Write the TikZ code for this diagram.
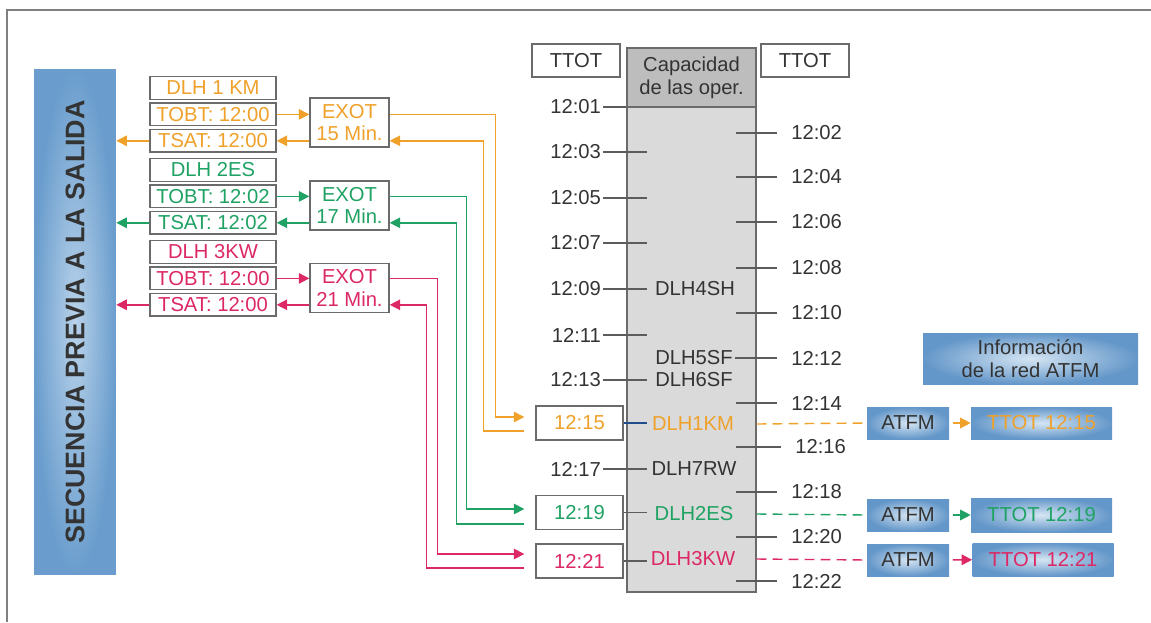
\documentclass[tikz,border=0pt]{standalone}
\usepackage{fontspec}
\setmainfont{Liberation Sans}
\usepackage{xcolor}
\usepackage{tikz}
\usetikzlibrary{arrows.meta,positioning}
\definecolor{sqorange}{HTML}{EFA12A}
\definecolor{sqgreen}{HTML}{1FA263}
\definecolor{sqred}{HTML}{DC2865}
\definecolor{sqnavy}{HTML}{1F4E8C}
\definecolor{sqblue}{HTML}{6497C9}
\definecolor{sqlight}{HTML}{D5E5F3}
\definecolor{seqblue}{HTML}{6A9DCD}
\definecolor{seqlight}{HTML}{B8D2EA}
\definecolor{darkgray}{HTML}{333333}
\definecolor{linegray}{HTML}{6B6B6B}
\definecolor{colgray}{HTML}{DADADA}
\definecolor{headgray}{HTML}{BDBDBD}
\newcommand{\diagfont}{\fontsize{11.5pt}{13pt}\selectfont}
\tikzset{
  flightbox/.style={rectangle,draw=linegray,fill=white,line width=0.8pt,text=#1,
    minimum width=2.52cm,minimum height=0.45cm,inner sep=0pt},
  flightbox/.default=darkgray,
  exotbox/.style={rectangle,draw=linegray,fill=white,line width=0.8pt,text=#1,
    minimum width=1.58cm,minimum height=0.98cm,align=center,inner sep=0pt},
  exotbox/.default=darkgray,
  timebox/.style={rectangle,draw=linegray,fill=white,line width=0.8pt,text=#1,
    minimum width=1.74cm,minimum height=0.68cm,inner sep=0pt},
  timebox/.default=darkgray,
  atfmbox/.style={rectangle,inner color=sqlight,outer color=sqblue,text=#1,
    minimum height=0.64cm,inner sep=0pt,align=center},
  atfmbox/.default=darkgray,
  seqbox/.style={rectangle,inner color=seqlight,outer color=seqblue,text=darkgray,
    font=\bfseries\fontsize{15.3pt}{18pt}\selectfont,inner sep=0pt},
  ltime/.style={anchor=east,inner sep=1pt,text=darkgray},
  rtime/.style={anchor=west,inner xsep=0.28cm,inner ysep=1pt,text=darkgray},
  flight/.style={text=#1,inner sep=1pt},
  flight/.default=darkgray,
  arrow/.style={-{Triangle[length=6pt,width=6pt]},line width=0.8pt,draw=#1,fill=#1},
  scaletick/.style={line width=0.7pt,draw=#1},
  scaletick/.default=darkgray!80,
  dashline/.style={dash pattern=on 5.5pt off 3.6pt,line width=0.8pt,draw=#1}
}

\begin{document}
\begin{tikzpicture}[x=0.02cm,y=-0.02cm,font=\diagfont]
\useasboundingbox (0,0) rectangle (1151,622);
\draw[line width=1pt,draw=gray] (7,622) -- (7,10) -- (1151,10);

\node[seqbox,rotate=90,minimum width=10.12cm,minimum height=1.64cm] (seq) at (75,322) {SECUENCIA PREVIA A LA SALIDA};

% first flight
\node[flightbox=sqorange] (dlh1) at (213,88) {DLH 1 KM};
\node[flightbox=sqorange,below=0.05cm of dlh1] (tobt1) {TOBT: 12:00};
\node[flightbox=sqorange,below=0.05cm of tobt1] (tsat1) {TSAT: 12:00};
\node[exotbox=sqorange] (exot1) at (349.5,122.5) {EXOT\\15 Min.};
% second flight
\node[flightbox=sqgreen] (dlh2) at (213,170) {DLH 2ES};
\node[flightbox=sqgreen,below=0.05cm of dlh2] (tobt2) {TOBT: 12:02};
\node[flightbox=sqgreen,below=0.05cm of tobt2] (tsat2) {TSAT: 12:02};
\node[exotbox=sqgreen] (exot2) at (349.5,205.5) {EXOT\\17 Min.};
% third flight
\node[flightbox=sqred] (dlh3) at (213,252) {DLH 3KW};
\node[flightbox=sqred,below=0.05cm of dlh3] (tobt3) {TOBT: 12:00};
\node[flightbox=sqred,below=0.05cm of tobt3] (tsat3) {TSAT: 12:00};
\node[exotbox=sqred] (exot3) at (349.5,288) {EXOT\\21 Min.};

% runway capacity column
\node[rectangle,draw=linegray,fill=colgray,line width=0.8pt,minimum width=2.58cm,minimum height=10.88cm] (col) at (691.5,320) {};
\node[rectangle,draw=linegray,fill=headgray,line width=0.8pt,minimum width=2.58cm,minimum height=1.18cm,anchor=north,align=center,text=darkgray] (cap) at (col.north) {Capacidad\\de las oper.};
\node[flightbox,minimum width=1.76cm,minimum height=0.66cm] (ttotl) at (576,60.5) {TTOT};
\node[flightbox,minimum width=1.76cm,minimum height=0.66cm] (ttotr) at (805,60.5) {TTOT};
\coordinate (lt) at (647,0);
\coordinate (rt) at (736,0);

\node[ltime] (l01) at (603,107) {12:01};
\node[ltime] (l03) at (603,152) {12:03};
\node[ltime] (l05) at (603,198) {12:05};
\node[ltime] (l07) at (603,243) {12:07};
\node[ltime] (l09) at (603,289) {12:09};
\node[ltime] (l11) at (603,335) {12:11};
\node[ltime] (l13) at (603,380) {12:13};
\node[ltime] (l17) at (603,469) {12:17};

\node[rtime] (r02) at (777,133) {12:02};
\node[rtime] (r04) at (777,177) {12:04};
\node[rtime] (r06) at (777,222) {12:06};
\node[rtime] (r08) at (777,268) {12:08};
\node[rtime] (r10) at (777,313) {12:10};
\node[rtime] (r12) at (777,358) {12:12};
\node[rtime] (r14) at (777,403) {12:14};
\node[rtime] (r16) at (781,447) {12:16};
\node[rtime] (r18) at (777,492) {12:18};
\node[rtime] (r20) at (777,537) {12:20};
\node[rtime] (r22) at (777,581) {12:22};

\node[flight] (d4sh) at (695,289) {DLH4SH};
\node[flight] (d5sf) at (694,358) {DLH5SF};
\node[flight] (d6sf) at (694,380) {DLH6SF};
\node[flight=sqorange] (d1km) at (693,424) {DLH1KM};
\node[flight] (d7rw) at (694,469) {DLH7RW};
\node[flight=sqgreen] (d2es) at (694,514) {DLH2ES};
\node[flight=sqred] (d3kw) at (693,559) {DLH3KW};

\node[timebox=sqorange] (b15) at (579.5,423) {12:15};
\node[timebox=sqgreen] (b19) at (579.5,512.5) {12:19};
\node[timebox=sqred] (b21) at (579.5,561) {12:21};

% ATFM side
\node[atfmbox,minimum width=4.3cm,minimum height=1.02cm] (info) at (1030.5,358.5) {Información\\de la red ATFM};
\node[atfmbox,minimum width=1.64cm] (atfm1) at (908,423) {ATFM};
\node[atfmbox,minimum width=1.64cm] (atfm2) at (908,515) {ATFM};
\node[atfmbox,minimum width=1.64cm] (atfm3) at (908,560) {ATFM};
\node[atfmbox=sqorange,minimum width=2.82cm] (tt1) at (1041.5,423) {TTOT 12:15};
\node[atfmbox=sqgreen,minimum width=2.82cm,minimum height=0.68cm] (tt2) at (1041.5,515) {TTOT 12:19};
\node[atfmbox=sqred,minimum width=2.82cm,minimum height=0.66cm] (tt3) at (1043,559.5) {TTOT 12:21};

% ticks
\draw[scaletick] (l01.east) -- (l01.east -| col.west);
\draw[scaletick] (l03.east) -- (l03.east -| lt);
\draw[scaletick] (l05.east) -- (l05.east -| lt);
\draw[scaletick] (l07.east) -- (l07.east -| lt);
\draw[scaletick] (l09.east) -- (l09.east -| lt);
\draw[scaletick] (l11.east) -- (l11.east -| lt);
\draw[scaletick] (l13.east) -- (l13.east -| lt);
\draw[scaletick] (l17.east) -- (l17.east -| lt);
\draw[scaletick] (r02.west) -- (r02.west -| rt);
\draw[scaletick] (r04.west) -- (r04.west -| rt);
\draw[scaletick] (r06.west) -- (r06.west -| rt);
\draw[scaletick] (r08.west) -- (r08.west -| rt);
\draw[scaletick] (r10.west) -- (r10.west -| rt);
\draw[scaletick] (r12.west) -- (d5sf.east);
\draw[scaletick] (r14.west) -- (r14.west -| rt);
\draw[scaletick] (r16.west) -- (r16.west -| rt);
\draw[scaletick] (r18.west) -- (r18.west -| rt);
\draw[scaletick] (r20.west) -- (r20.west -| rt);
\draw[scaletick] (r22.west) -- (r22.west -| rt);
\draw[scaletick=sqnavy] (b15.east) -- (b15.east -| lt);
\draw[scaletick] (b19.east) -- (b19.east -| lt);
\draw[scaletick] (b21.east) -- (b21.east -| lt);

% flight arrows
\draw[arrow=sqorange] (tobt1.east) -- (tobt1.east -| exot1.west);
\draw[arrow=sqorange] (tsat1.east -| exot1.west) -- (tsat1.east);
\draw[arrow=sqorange] (tsat1.west) -- (tsat1.west -| seq.south);
\draw[arrow=sqgreen] (tobt2.east) -- (tobt2.east -| exot2.west);
\draw[arrow=sqgreen] (tsat2.east -| exot2.west) -- (tsat2.east);
\draw[arrow=sqgreen] (tsat2.west) -- (tsat2.west -| seq.south);
\draw[arrow=sqred] (tobt3.east) -- (tobt3.east -| exot3.west);
\draw[arrow=sqred] (tsat3.east -| exot3.west) -- (tsat3.east);
\draw[arrow=sqred] (tsat3.west) -- (tsat3.west -| seq.south);

\draw[arrow=sqorange,fill=none] (tobt1.east -| exot1.east) -| ([xshift=-0.8cm,yshift=0.12cm]b15.west) -- ([xshift=-0.22cm,yshift=0.12cm]b15.west);
\draw[arrow=sqorange,fill=none] ([xshift=-0.22cm,yshift=-0.16cm]b15.west) -- ([xshift=-1.04cm,yshift=-0.16cm]b15.west) |- (tsat1.east -| exot1.east);
\draw[arrow=sqgreen,fill=none] (tobt2.east -| exot2.east) -| ([xshift=-1.38cm,yshift=0.07cm]b19.west) -- ([xshift=-0.22cm,yshift=0.07cm]b19.west);
\draw[arrow=sqgreen,fill=none] ([xshift=-0.22cm,yshift=-0.23cm]b19.west) -- ([xshift=-1.58cm,yshift=-0.23cm]b19.west) |- (tsat2.east -| exot2.east);
\draw[arrow=sqred,fill=none] (tobt3.east -| exot3.east) -| ([xshift=-1.96cm,yshift=0.14cm]b21.west) -- ([xshift=-0.22cm,yshift=0.14cm]b21.west);
\draw[arrow=sqred,fill=none] ([xshift=-0.22cm,yshift=-0.14cm]b21.west) -- ([xshift=-2.18cm,yshift=-0.14cm]b21.west) |- (tsat3.east -| exot3.east);

% to the network
\draw[dashline=sqorange] (col.east |- d1km) -- (atfm1.west);
\draw[dashline=sqgreen] (col.east |- d2es) -- (atfm2.west);
\draw[dashline=sqred] (col.east |- d3kw) -- (atfm3.west);
\draw[arrow=sqorange,shorten <=2pt] (atfm1) -- (tt1);
\draw[arrow=sqgreen,shorten <=2pt] (atfm2) -- (tt2);
\draw[arrow=sqred,shorten <=2pt] (atfm3) -- (tt3);
\end{tikzpicture}
\end{document}
